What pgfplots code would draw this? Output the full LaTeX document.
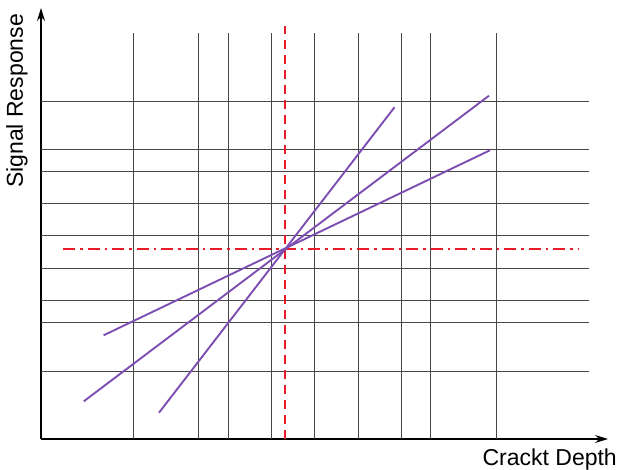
\documentclass[border=0pt]{standalone}
\usepackage{pgfplots}
\pgfplotsset{compat=1.18}
\usepackage{fontspec}
\setmainfont{Liberation Sans}
\usetikzlibrary{arrows.meta}
\definecolor{purp}{RGB}{125,78,178}
\definecolor{redd}{RGB}{232,28,40}
\definecolor{gridc}{RGB}{70,70,70}
\begin{document}
\begin{tikzpicture}
\begin{axis}[
  scale only axis, width=567pt, height=431pt,
  xmin=0, xmax=567, ymin=0, ymax=431,
  axis lines=left,
  x axis line style={line width=1.3pt, -{Stealth[length=13pt,width=8pt]}},
  y axis line style={line width=1.3pt, -{Stealth[length=13pt,width=8pt]}},
  xtick=\empty, ytick=\empty, clip=false,
]
% vertical grid lines
\addplot[ycomb, no marks, gridc, line width=0.7pt] coordinates {
 (92,406) (157,406) (187,406) (230,406) (273,406) (317,406) (360,406) (389,406) (455,406)};
% horizontal grid lines
\addplot[xcomb, no marks, gridc, line width=0.7pt] coordinates {
 (548,338) (548,290) (548,268) (548,236) (548,204) (548,171) (548,139) (548,117) (548,68)};
% red reference lines
\addplot[no marks, redd, line width=1.8pt, dash pattern=on 9pt off 6pt] coordinates {(244,0) (244,413)};
\addplot[no marks, redd, line width=1.8pt, dash pattern=on 12pt off 5pt on 2.5pt off 5pt] coordinates {(22,190) (538,190)};
% purple lines
\addplot[no marks, purp, line width=1.9pt] coordinates {(118,26.3) (353.5,331.7)};
\addplot[no marks, purp, line width=1.9pt] coordinates {(42.8,37.7) (448,343.3)};
\addplot[no marks, purp, line width=1.9pt] coordinates {(62.6,103.7) (449,288.7)};
\node[rotate=90, inner sep=0pt, font=\fontsize{23}{27}\selectfont] at (axis cs:-24,338) {Signal Response};
\node[anchor=base east, inner sep=0pt, font=\fontsize{23}{27}\selectfont] at (axis cs:576,-26.3) {Crackt Depth};
\end{axis}
\pgfresetboundingbox
\path (-41pt,-31pt) rectangle (577pt,439pt);
\end{tikzpicture}
\end{document}
